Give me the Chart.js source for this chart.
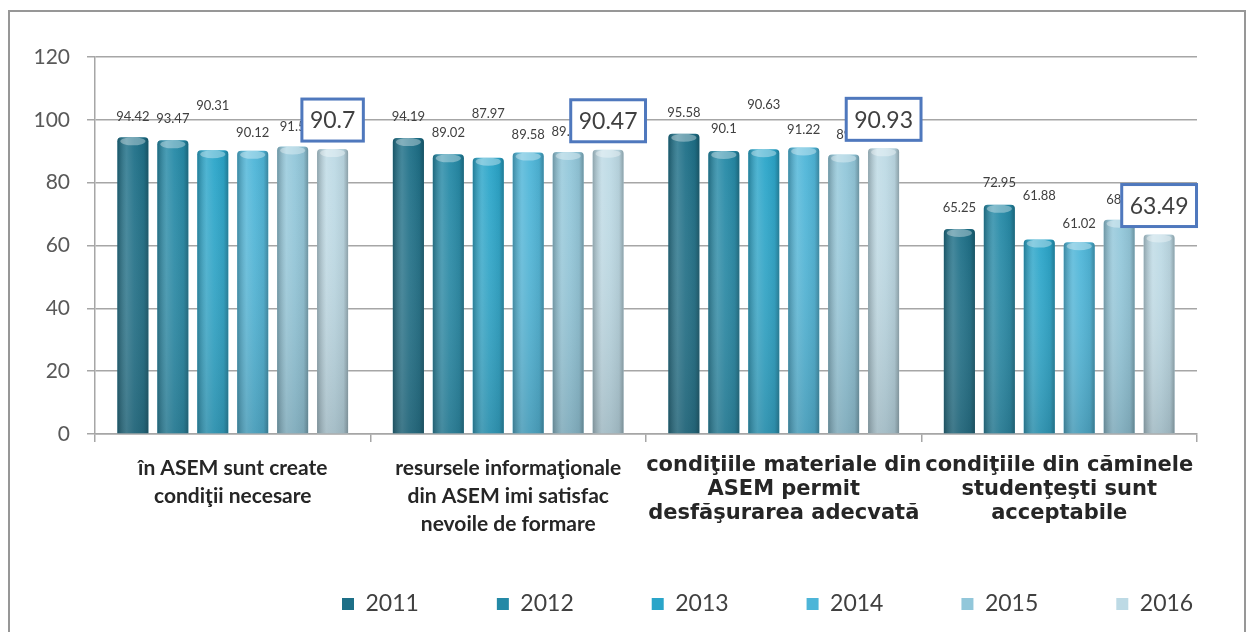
<!DOCTYPE html>
<html>
<head>
<meta charset="utf-8">
<script src="https://cdn.jsdelivr.net/npm/chart.js@4.4.0/dist/chart.umd.min.js"></script>
<style>
  html, body { margin: 0; padding: 0; background: #fff; overflow: hidden; }
  #frame { position: absolute; left: 8px; top: 10px; width: 1234px; height: 700px; border: 2px solid #979797; }
  #wrap { position: absolute; left: 0; top: 0; width: 1247px; height: 632px; }
</style>
</head>
<body>
<div id="frame"></div>
<div id="wrap"><canvas id="chart"></canvas></div>
<script>
const categories = [
  ['în ASEM sunt create', 'condiţii necesare'],
  ['resursele informaţionale', 'din ASEM imi satisfac', 'nevoile de formare'],
  ['condiţiile materiale din', 'ASEM permit', 'desfăşurarea adecvată'],
  ['condiţiile din căminele', 'studenţeşti sunt', 'acceptabile']
];
const years = ['2011', '2012', '2013', '2014', '2015', '2016'];
const values2011 = [94.42, 94.19, 95.58, 65.25];
const values2012 = [93.47, 89.02, 90.1, 72.95];
const values2013 = [90.31, 87.97, 90.63, 61.88];
const values2014 = [90.12, 89.58, 91.22, 61.02];
const values2015 = [91.5, 89.75, 89, 68.2];
const values2016 = [90.7, 90.47, 90.93, 63.49];
const yMin = 0, yMax = 120, yStep = 20;

const seriesValues = [values2011, values2012, values2013, values2014, values2015, values2016];
const barColors = ['#1d6f87', '#2489a6', '#2aa5c9', '#4db5d8', '#92c7da', '#bddae5'];
// how far above the bar top each year's label sits
const labelLift = [21, 22, 44, 18, 20, 29];
// legend placement (first swatch left edge, text centre line)
const legendStartX = 342;
const legendTextY = 604;
const legendBand = 88;

Chart.defaults.font.family = 'Lato';

function shadeBar(ctx, bar) {
  const left = bar.x - bar.width / 2;
  const top = bar.y;
  const h = bar.base - bar.y;
  ctx.save();
  ctx.beginPath();
  ctx.roundRect(left, top, bar.width, h, [4, 4, 0, 0]);
  ctx.clip();
  let g = ctx.createLinearGradient(left, 0, left + bar.width, 0);
  g.addColorStop(0, 'rgba(0,0,0,0.26)');
  g.addColorStop(0.3, 'rgba(255,255,255,0.16)');
  g.addColorStop(0.55, 'rgba(255,255,255,0.05)');
  g.addColorStop(0.85, 'rgba(0,0,0,0.06)');
  g.addColorStop(1, 'rgba(0,0,0,0.28)');
  ctx.fillStyle = g;
  ctx.fillRect(left, top, bar.width, h);
  g = ctx.createLinearGradient(0, top, 0, bar.base);
  g.addColorStop(0, 'rgba(255,255,255,0)');
  g.addColorStop(1, 'rgba(60,70,75,0.2)');
  ctx.fillStyle = g;
  ctx.fillRect(left, top, bar.width, h);
  ctx.fillStyle = 'rgba(255,255,255,0.35)';
  ctx.beginPath();
  ctx.ellipse(bar.x, top + 4, bar.width / 2 - 3, 4, 0, 0, Math.PI * 2);
  ctx.fill();
  ctx.restore();
}

const barDecor = {
  id: 'barDecor',
  afterDatasetsDraw(chart) {
    const ctx = chart.ctx;
    chart.data.datasets.forEach((ds, di) => {
      chart.getDatasetMeta(di).data.forEach(bar => shadeBar(ctx, bar));
    });
    ctx.save();
    ctx.textAlign = 'center';
    ctx.textBaseline = 'middle';
    chart.data.datasets.forEach((ds, di) => {
      const last = di === chart.data.datasets.length - 1;
      chart.getDatasetMeta(di).data.forEach((bar, i) => {
        const txt = String(ds.data[i]);
        const cy = bar.y - labelLift[di];
        if (last) {
          ctx.font = '23px Lato';
          const w = ctx.measureText(txt).width + 16;
          ctx.fillStyle = '#fff';
          ctx.fillRect(bar.x - w / 2, cy - 21, w, 42);
          ctx.strokeStyle = '#4f78bd';
          ctx.lineWidth = 3;
          ctx.strokeRect(bar.x - w / 2, cy - 21, w, 42);
          ctx.fillStyle = '#404040';
          ctx.fillText(txt, bar.x, cy + 1);
        } else {
          ctx.font = '13px Lato';
          ctx.fillStyle = '#404040';
          ctx.fillText(txt, bar.x, cy);
        }
      });
    });
    ctx.restore();
  }
};

const legendPlace = {
  id: 'legendPlace',
  beforeLayout(chart) {
    const lg = chart.legend;
    if (lg && !lg._bandFit) {
      const fit = lg.fit.bind(lg);
      lg.fit = function () { fit(); this.height = legendBand; };
      lg._bandFit = true;
    }
  },
  afterLayout(chart) {
    const lg = chart.legend;
    const pad = lg.options.labels.padding;
    const fs = lg.options.labels.font.size;
    const w = lg.right - lg.left;
    lg.left = legendStartX - pad;
    lg.right = lg.left + w;
    lg.top = legendTextY - fs / 2 - pad;
    lg.bottom = chart.height;
  }
};

new Chart(document.getElementById('chart'), {
  type: 'bar',
  data: {
    labels: categories,
    datasets: years.map((y, i) => ({
      label: y,
      data: seriesValues[i],
      backgroundColor: barColors[i],
      borderWidth: 0,
      borderRadius: 4,
      categoryPercentage: 0.87,
      barPercentage: 0.78
    }))
  },
  options: {
    responsive: true,
    maintainAspectRatio: false,
    animation: false,
    layout: { padding: { left: 0, right: 50, top: 57, bottom: 8 } },
    plugins: {
      legend: {
        position: 'bottom',
        align: 'start',
        labels: {
          boxWidth: 12,
          boxHeight: 12,
          padding: 78,
          color: '#404040',
          font: { size: 23, family: 'Lato' }
        }
      },
      tooltip: { enabled: false }
    },
    scales: {
      x: {
        afterFit(scale) { scale.height = 102; },
        grid: { offset: true, drawOnChartArea: false, drawTicks: true, tickLength: 8, color: '#a6a6a6', lineWidth: 1.5 },
        border: { display: true, color: '#a6a6a6', width: 1.5 },
        ticks: {
          padding: 12,
          maxRotation: 0,
          autoSkip: false,
          color: '#262626',
          font: (c) => c.index < 2
            ? { family: 'Lato', weight: 'bold', size: 21, lineHeight: 28 / 21 }
            : { family: 'DejaVu Sans', weight: 'bold', size: 21, lineHeight: 24 / 21 }
        }
      },
      y: {
        min: yMin,
        max: yMax,
        afterFit(scale) { scale.width = 95; },
        grid: { color: '#a6a6a6', lineWidth: 1.5, tickLength: 8 },
        border: { display: true, color: '#a6a6a6', width: 1.5 },
        ticks: {
          stepSize: yStep,
          padding: 17,
          color: '#595959',
          font: { size: 21, family: 'Lato' }
        }
      }
    }
  },
  plugins: [barDecor, legendPlace]
});
</script>
</body>
</html>
